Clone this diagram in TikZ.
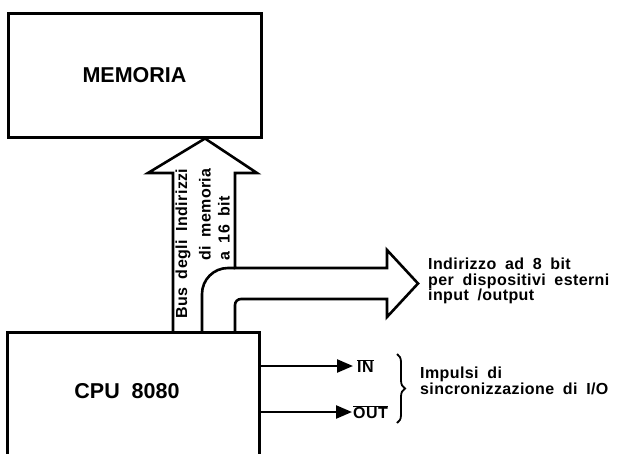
\documentclass[tikz,border=0pt]{standalone}
\usepackage{fontspec}
\setmainfont{Liberation Sans}
\newfontfamily\lblfont{Liberation Sans}[LetterSpace=2.5,WordSpace=1.8]
\usetikzlibrary{arrows.meta,decorations.pathreplacing}
\begin{document}
\begin{tikzpicture}[x=1pt,y=-1pt,
  box/.style={draw,line width=3pt},
  busline/.style={line width=2.6pt,line join=miter},
  sig/.style={line width=2.4pt,-{Triangle[length=16pt,width=13pt]}},
  big/.style={font=\fontsize{21.5}{24}\selectfont\bfseries},
  lbl/.style={font=\fontsize{16}{15.5}\selectfont\lblfont\bfseries,inner sep=0pt},
]
\useasboundingbox (0,0) rectangle (621,453);
% memory
\node[box,big,minimum width=253pt,minimum height=124pt,inner sep=0pt] (mem) at (134.5,75) {MEMORIA};
% cpu
\node[big] (cpu) at (127,391) {CPU\ \ 8080};
\draw[box] (7,456) -- (7,332) -- (259,332) -- (259,456);
% buses
\draw[busline] (173,332) -- (173,173) -- (148,173) -- (205,138.5) -- (257,173) -- (235,173)
  -- (235,268) -- (387,268) -- (387,250) -- (418,283.5) -- (387,317) -- (387,299)
  [rounded corners=6pt] -- (235,299) -- (235,332);
\draw[busline] (202,332) [rounded corners=26pt] -- (202,268) -- (235,268);
\node[lbl,rotate=90,anchor=west] (t1) at (183,319) {Bus degli Indirizzi};
\node[lbl,rotate=90,anchor=west] (t2) at (205,261) {di memoria};
\node[lbl,rotate=90,anchor=west] (t3) at (224,261) {a 16 bit};
\node[lbl,anchor=north west,align=left] (addr) at (428,258) {Indirizzo ad 8 bit\\per dispositivi esterni\\input /output};
% signals
\coordinate (inS) at (259,366);
\coordinate (outS) at (259,412);
\node[lbl,anchor=west] (in) at (357,366) {$\overline{\mbox{IN}}$};
\node[lbl,anchor=west] (out) at (353,412) {$\overline{\mbox{OUT}}$};
\draw[sig] (inS) -- ([xshift=-4pt]in.west);
\draw[sig] (outS) -- ([xshift=-1pt]out.west);
\draw[line width=1.8pt,decorate,decoration={brace,amplitude=8pt}] (397,354) -- (397,423);
\node[lbl,anchor=north west,align=left] (imp) at (420,367) {Impulsi di\\sincronizzazione di I/O};
\end{tikzpicture}
\end{document}
